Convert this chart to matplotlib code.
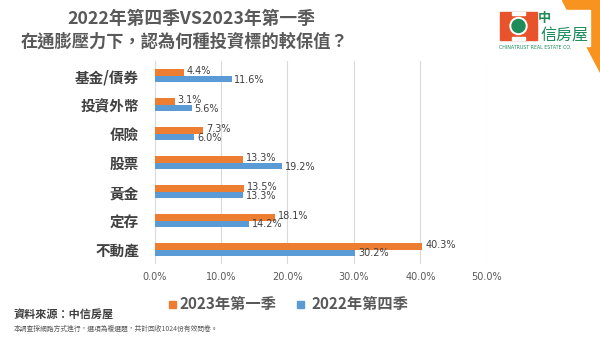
import matplotlib
matplotlib.use("Agg")
import matplotlib.pyplot as plt
from matplotlib.patches import Polygon, Rectangle, Ellipse
import numpy as np

plt.rcParams['font.family'] = ['Noto Sans CJK TC', 'DejaVu Sans']

categories = ['基金/債券', '投資外幣', '保險', '股票', '黃金', '定存', '不動產']
q1_2023 = [4.4, 3.1, 7.3, 13.3, 13.5, 18.1, 40.3]
q4_2022 = [11.6, 5.6, 6.0, 19.2, 13.3, 14.2, 30.2]
series_names = ['2023年第一季', '2022年第四季']
xticks = [0, 10, 20, 30, 40, 50]

ORANGE = '#ED7D31'
BLUE = '#5B9BD5'
W, H = 600, 337


def fx(px):
    return px / W


def fy(py):
    return 1 - py / H


fig = plt.figure(figsize=(6, 3.37), dpi=100)
ax = fig.add_axes([0.2575, 0.2166, 0.554, 0.601])

y = np.arange(len(categories))
h = 0.225
ax.barh(y - h / 2, q1_2023, height=h, color=ORANGE, zorder=2)
ax.barh(y + h / 2, q4_2022, height=h, color=BLUE, zorder=2)

for yi, v in zip(y, q1_2023):
    ax.text(v + 0.4, yi - h / 2 - 0.05, f'{v:.1f}%', va='center', ha='left',
            fontsize=7, color='#404040', family='DejaVu Sans')
for yi, v in zip(y, q4_2022):
    ax.text(v + 0.4, yi + h / 2 + 0.02, f'{v:.1f}%', va='center', ha='left',
            fontsize=7, color='#404040', family='DejaVu Sans')

ax.set_ylim(len(categories) - 0.5, -0.5)
ax.set_xlim(0, 50)
ax.set_yticks(y)
ax.set_yticklabels(categories, fontsize=10.5, fontweight='bold', color='#404040')
ax.set_xticks(xticks)
ax.set_xticklabels([f'{t:.1f}%' for t in xticks], fontsize=7, color='#595959',
                   family='DejaVu Sans')
ax.tick_params(axis='both', length=0)
ax.tick_params(axis='y', pad=11)
ax.tick_params(axis='x', pad=6)
for s in ax.spines.values():
    s.set_visible(False)
ax.grid(axis='x', color='#D9D9D9', linewidth=0.8, zorder=0)
ax.set_axisbelow(True)

# Title
fig.text(fx(191), fy(19), '2022年第四季VS2023年第一季', ha='center', va='center',
         fontsize=12.8, fontweight='bold', color='#595959')
fig.text(fx(184.5), fy(42), '在通膨壓力下，認為何種投資標的較保值？', ha='center', va='center',
         fontsize=12.4, fontweight='bold', color='#595959')

# Legend
ly = fy(304)
fig.patches.append(Rectangle((fx(169), ly - 3.5 / H), 7 / W, 7 / H,
                             transform=fig.transFigure, color=ORANGE))
fig.text(fx(180), ly, series_names[0], ha='left', va='center', fontsize=11,
         fontweight='bold', color='#595959')
fig.patches.append(Rectangle((fx(297), ly - 3.5 / H), 7 / W, 7 / H,
                             transform=fig.transFigure, color=BLUE))
fig.text(fx(311), ly, series_names[1], ha='left', va='center', fontsize=11,
         fontweight='bold', color='#595959')

# Source and note
fig.text(fx(14), fy(315), '資料來源：中信房屋', ha='left', va='center',
         fontsize=8, fontweight='bold', color='#404040')
fig.text(fx(14), fy(329), '本調查採網路方式進行，選項為複選題，共計回收1024份有效問卷。',
         ha='left', va='center', fontsize=4.9, color='#595959')

# Logo (decorative)
fig.patches.append(Polygon([(fx(562), 1), (1, 1), (1, fy(72))], closed=True,
                           transform=fig.transFigure, color='#F7931E', zorder=0))
fig.patches.append(Rectangle((fx(497), fy(46)), 93 / W, 36 / H,
                             transform=fig.transFigure, color='white', zorder=1))
fig.patches.append(Rectangle((fx(500), fy(40)), 37 / W, 28 / H,
                             transform=fig.transFigure, color='#E8532B', zorder=2))
fig.patches.append(Rectangle((fx(512), fy(15)), 13 / W, 3 / H,
                             transform=fig.transFigure, color='white', zorder=3))
fig.patches.append(Rectangle((fx(512), fy(40)), 13 / W, 3 / H,
                             transform=fig.transFigure, color='white', zorder=3))
fig.patches.append(Ellipse((fx(518.5), fy(26)), 17 / W, 17 / H, transform=fig.transFigure,
                           color='white', zorder=3))
fig.patches.append(Ellipse((fx(518.5), fy(26)), 13 / W, 13 / H, transform=fig.transFigure,
                           color='#1E8C5A', zorder=4))
fig.text(fx(538), fy(18), '中', ha='left', va='center', fontsize=9.5,
         color='#1E8C5A', fontweight='bold')
fig.text(fx(540), fy(36), '信房屋', ha='left', va='center', fontsize=11.5,
         color='#1E8C5A')
fig.text(fx(499), fy(47.5), 'CHINATRUST REAL ESTATE CO.', ha='left', va='center',
         fontsize=3.4, color='#1E8C5A', family='DejaVu Sans')

fig.savefig('out.png', dpi=100, facecolor='white')
